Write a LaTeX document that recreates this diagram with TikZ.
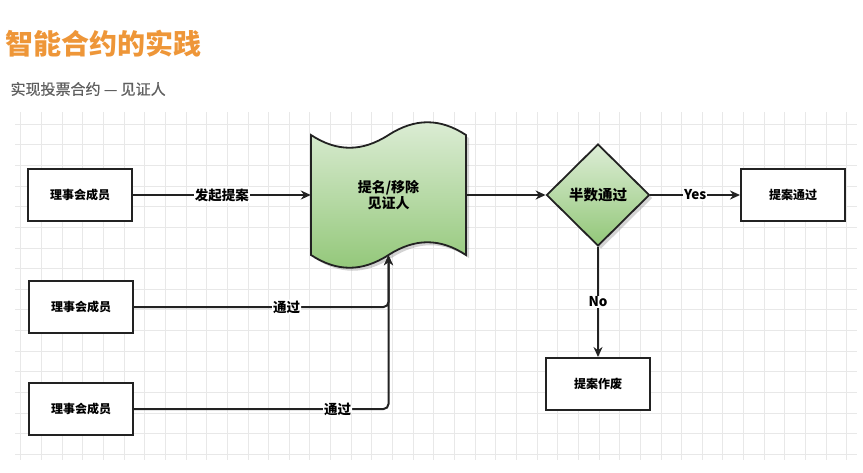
\documentclass[tikz,border=0pt]{standalone}
\usepackage{fontspec}
\setmainfont{Noto Sans CJK SC}
\newfontfamily\subfont{Noto Sans CJK SC}[FakeBold=0.6]
\usetikzlibrary{arrows.meta, shapes.geometric, shadows}
\definecolor{titleorange}{RGB}{238,150,56}
\definecolor{subgray}{RGB}{95,95,95}
\definecolor{gridgray}{RGB}{232,232,232}
\definecolor{greentop}{RGB}{221,237,214}
\definecolor{greenbot}{RGB}{146,199,120}
\definecolor{edgegray}{RGB}{34,34,34}

\begin{document}
\begin{tikzpicture}[x=1pt,y=-1pt,
    box/.style={draw=edgegray, line width=2pt, fill=white, minimum width=104pt, minimum height=52pt, inner sep=0pt, font=\fontsize{12}{14}\selectfont\bfseries},
    lbl/.style={fill=white, inner sep=1pt, font=\fontsize{13.5}{15}\selectfont\bfseries},
    conn/.style={draw=edgegray, line width=2pt, -{Stealth[length=10pt,width=9pt]}},
    gridline/.style={draw=gridgray, line width=0.6pt},
    greenfill/.style={top color=greentop, bottom color=greenbot, draw=edgegray, line width=1.8pt, drop shadow={shadow xshift=3pt, shadow yshift=-3pt, opacity=0.35}}
  ]
  \useasboundingbox (0,0) rectangle (863,472);
  % background grid
  \foreach \i in {1,...,41} \draw[gridline] (20.65*\i,112) -- (20.65*\i,460);
  \foreach \j in {6,...,22} \draw[gridline] (15,20.65*\j) -- (857,20.65*\j);
  % headings
  \node[anchor=west, text=titleorange, font=\fontsize{28}{30}\selectfont\bfseries] (title) at (2,44) {智能合约的实践};
  \node[anchor=west, text=subgray, font=\fontsize{15}{17}\subfont] (sub) at (7,89) {实现投票合约 — 见证人};
  % tape shape, the node on top holds its text
  \path[greenfill] (311,135) .. controls (337,152) and (362,152) .. (388.5,135)
    .. controls (415,118) and (440,118) .. (466,135) -- (466,255)
    .. controls (440,238) and (415,238) .. (388.5,255)
    .. controls (362,272) and (337,272) .. (311,255) -- cycle;
  \node[minimum width=155pt, minimum height=120pt, inner sep=0pt, align=center, font=\fontsize{14}{16}\selectfont\bfseries] (tape) at (388.5,195) {提名/移除\\见证人};
  \node[diamond, greenfill, aspect=1, minimum width=103pt, minimum height=102pt, inner sep=0pt, font=\fontsize{14.5}{16}\selectfont\bfseries] (vote) at (598,195) {半数通过};
  % boxes
  \node[box] (m1) at (80,195) {理事会成员};
  \node[box] (m2) at (81,307) {理事会成员};
  \node[box] (m3) at (81,409) {理事会成员};
  \node[box] (pass) at (793,195) {提案通过};
  \node[box] (fail) at (598,384) {提案作废};
  % horizontal lines
  \draw[conn] (m1) -- node[lbl] {发起提案} (tape);
  \draw[conn] (tape) -- (vote);
  \draw[conn] (vote) -- node[lbl] {Yes} (pass);
  % vertical line
  \draw[conn] (vote) -- node[lbl] {No} (fail);
  % votes of the other members
  \draw[conn, rounded corners=5pt] (m2) -| node[lbl, pos=0.3] {通过} (tape);
  \draw[conn, rounded corners=5pt] (m3) -| node[lbl, pos=0.4] {通过} (tape);
\end{tikzpicture}
\end{document}
